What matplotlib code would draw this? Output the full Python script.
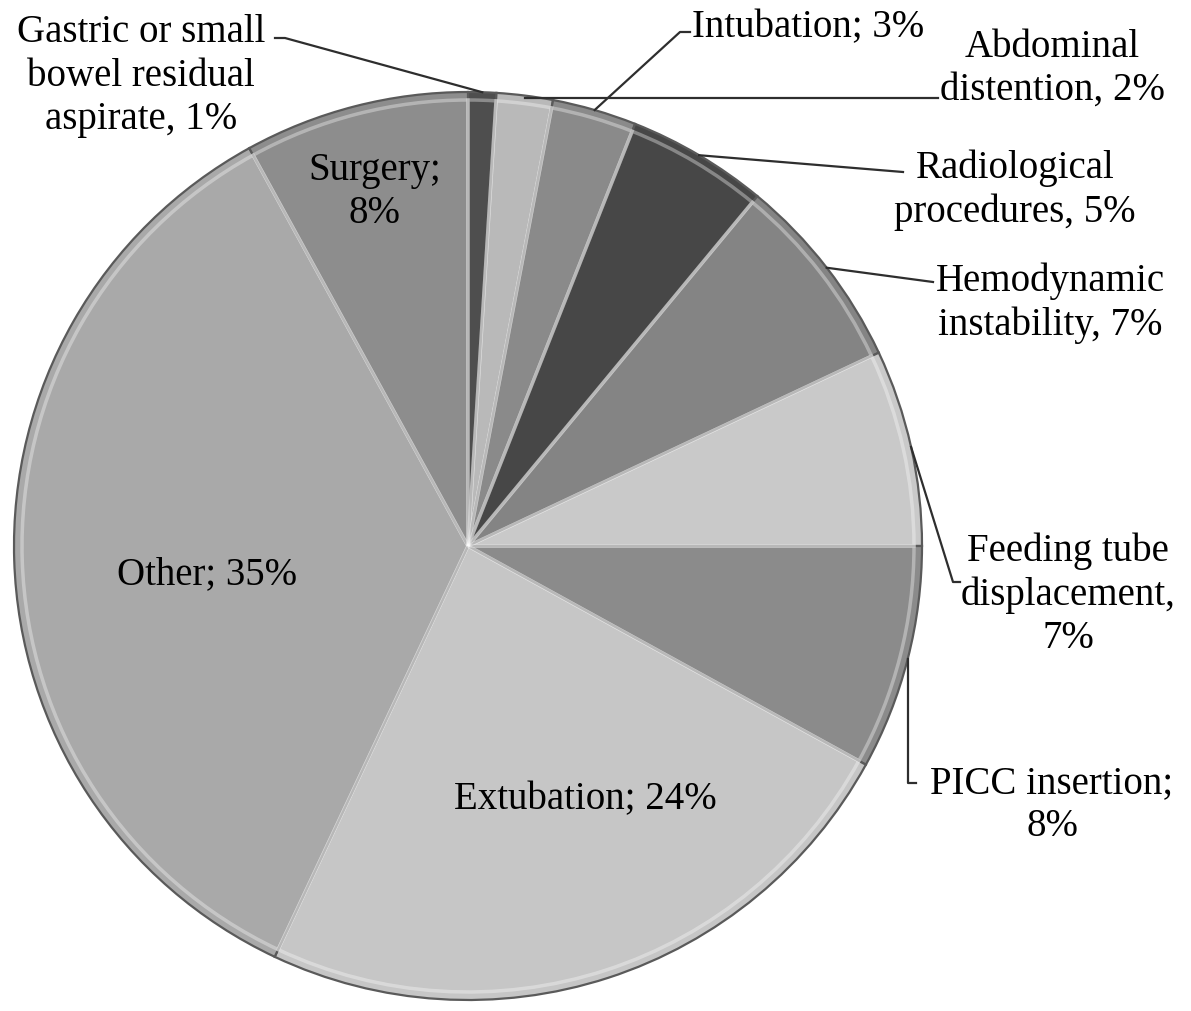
import numpy as np
import matplotlib
matplotlib.use("Agg")
import matplotlib.pyplot as plt

# slices, clockwise from 12 o'clock
causes = ["Gastric or small bowel residual aspirate", "Abdominal distention", "Intubation",
          "Radiological procedures", "Hemodynamic instability", "Feeding tube displacement",
          "PICC insertion", "Extubation", "Other", "Surgery"]
shares = [1, 2, 3, 5, 7, 7, 8, 24, 35, 8]
grays = ["#4e4e4e", "#b9b9b9", "#8a8a8a", "#474747", "#848484",
         "#c9c9c9", "#8b8b8b", "#c6c6c6", "#a9a9a9", "#8d8d8d"]

inside_labels = {7: "Extubation; 24%", 8: "Other; 35%", 9: "Surgery;\n8%"}
outside_labels = {
    0: "Gastric or small\nbowel residual\naspirate, 1%",
    1: "Abdominal\ndistention, 2%",
    2: "Intubation; 3%",
    3: "Radiological\nprocedures, 5%",
    4: "Hemodynamic\ninstability, 7%",
    5: "Feeding tube\ndisplacement,\n7%",
    6: "PICC insertion;\n8%",
}

W, H = 1191, 1011
fig = plt.figure(figsize=(W / 100, H / 100), dpi=100)
ax = fig.add_axes([0, 0, 1, 1])

cx, cy, R = 468, H - 546, 454
plt.rcParams["font.family"] = ["Liberation Serif", "DejaVu Serif"]
fs = 28
ls = 1.22

wedges, _ = ax.pie(shares, colors=grays, startangle=90, counterclock=False,
                   center=(cx, cy), radius=R, frame=True,
                   wedgeprops=dict(edgecolor="#5a5a5a", linewidth=1.6))
# light inner rim for the bevel look
ax.pie(shares, colors=["none"] * len(shares), startangle=90, counterclock=False,
       center=(cx, cy), radius=R - 8, frame=True,
       wedgeprops=dict(edgecolor=(1, 1, 1, 0.35), linewidth=2.5, fill=False))
ax.set_xlim(0, W)
ax.set_ylim(0, H)
ax.set_aspect("equal")
ax.axis("off")


def edge_point(i, r=R):
    w = wedges[i]
    a = np.deg2rad((w.theta1 + w.theta2) / 2)
    return cx + r * np.cos(a), cy + r * np.sin(a)


# inside labels
ax.text(585, H - 800, inside_labels[7], ha="center", va="center", fontsize=fs)
ax.text(207, H - 575, inside_labels[8], ha="center", va="center", fontsize=fs)
ax.text(375, H - 192, inside_labels[9], ha="center", va="center", fontsize=fs,
        linespacing=ls)

# outside labels with leader lines
lc = "#2e2e2e"
lw = 1.6
px, py = edge_point(0)
ax.plot([px, 285, 275], [py, H - 38, H - 38], color=lc, lw=lw)
ax.text(141, H - 76, outside_labels[0], ha="center", va="center", fontsize=fs,
        linespacing=ls)

px, py = edge_point(1)
ax.plot([px, 938], [H - 98, H - 98], color=lc, lw=lw)
ax.text(1052, H - 69, outside_labels[1], ha="center", va="center", fontsize=fs,
        linespacing=ls)

px, py = edge_point(2)
ax.plot([px, 680, 690], [py, H - 32, H - 32], color=lc, lw=lw)
ax.text(692, H - 28, outside_labels[2], ha="left", va="center", fontsize=fs)

px, py = edge_point(3)
ax.plot([px, 903], [py, H - 172], color=lc, lw=lw)
ax.text(1015, H - 190, outside_labels[3], ha="center", va="center", fontsize=fs,
        linespacing=ls)

px, py = edge_point(4)
ax.plot([px, 933], [py, H - 282], color=lc, lw=lw)
ax.text(1050, H - 303, outside_labels[4], ha="center", va="center", fontsize=fs,
        linespacing=ls)

px, py = edge_point(5)
ax.plot([px, 953, 960], [py, H - 582, H - 582], color=lc, lw=lw)
ax.text(1068, H - 595, outside_labels[5], ha="center", va="center", fontsize=fs,
        linespacing=ls)

px, py = edge_point(6)
ax.plot([px, px, px + 8], [py, H - 783, H - 783], color=lc, lw=lw)
ax.text(1052, H - 805, outside_labels[6], ha="center", va="center", fontsize=fs,
        linespacing=ls)

fig.savefig("out.png", dpi=100, facecolor="white")
